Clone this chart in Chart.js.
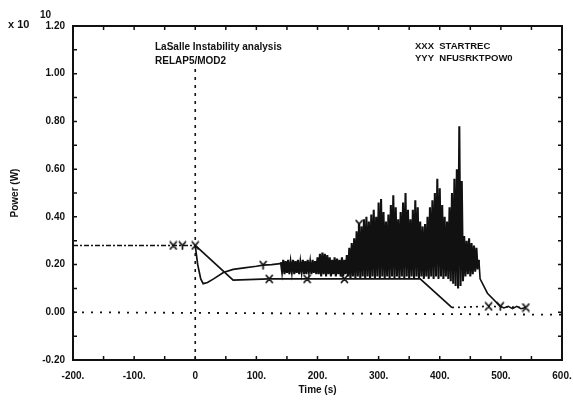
<!DOCTYPE html>
<html>
<head>
<meta charset="utf-8">
<script src="https://cdn.jsdelivr.net/npm/chart.js@4.4.1/dist/chart.umd.min.js"></script>
<style>
  html, body { margin: 0; padding: 0; background: #fff; }
  #wrap { width: 573px; height: 405px; }
</style>
</head>
<body>
<div id="wrap"><canvas id="c" width="573" height="405"></canvas></div>
<script>
// ---------- data ----------
const xTickValues = [-200, -100, 0, 100, 200, 300, 400, 500, 600];
const yTickValues = [-0.2, 0, 0.2, 0.4, 0.6, 0.8, 1.0, 1.2];
const seriesNames = ['STARTREC', 'NFUSRKTPOW0'];
const seriesKeys = ['XXX', 'YYY'];

// steady state before t = 0 (both series)
const preTime = [-200, 0];
const prePower = [0.28, 0.28];

// STARTREC (X)
const startrecTime = [0, 62, 121, 183, 244, 300, 368, 420];
const startrecPower = [0.28, 0.135, 0.14, 0.14, 0.14, 0.14, 0.14, 0.02];
const startrecTailTime = [420, 480, 541];
const startrecTailPower = [0.02, 0.025, 0.02];
const startrecMarkTime = [-36, 0, 121, 183, 244, 480, 541];
const startrecMarkPower = [0.28, 0.28, 0.14, 0.14, 0.14, 0.025, 0.02];

// NFUSRKTPOW0 (Y)
const nfusTime = [0, 4, 9, 13, 20, 30, 46, 62, 80, 100, 111, 125, 139];
const nfusPower = [0.28, 0.2, 0.14, 0.12, 0.125, 0.14, 0.167, 0.18, 0.186, 0.193, 0.198, 0.2, 0.204];
const oscStart = 140;
const oscStep = 2;
const oscPower = [
  0.21,0.17, 0.22,0.16, 0.215,0.165, 0.22,0.16, 0.21,0.17,
  0.22,0.16, 0.215,0.165, 0.22,0.16, 0.21,0.17, 0.22,0.16,
  0.215,0.16, 0.22,0.17, 0.21,0.16, 0.22,0.165, 0.215,0.16,
  0.23,0.16, 0.245,0.15, 0.25,0.16, 0.245,0.15, 0.24,0.16,
  0.23,0.15, 0.22,0.16, 0.23,0.15, 0.225,0.16, 0.22,0.15,
  0.23,0.15, 0.22,0.16, 0.24,0.15, 0.27,0.14, 0.29,0.15,
  0.31,0.14, 0.34,0.15, 0.37,0.14, 0.36,0.15, 0.39,0.14,
  0.40,0.15, 0.38,0.14, 0.41,0.15, 0.43,0.14, 0.40,0.15,
  0.46,0.14, 0.475,0.15, 0.42,0.14, 0.38,0.15, 0.41,0.14,
  0.45,0.15, 0.49,0.14, 0.44,0.15, 0.39,0.14, 0.42,0.15,
  0.46,0.14, 0.50,0.15, 0.43,0.14, 0.39,0.15, 0.43,0.14,
  0.47,0.15, 0.44,0.14, 0.38,0.15, 0.36,0.14, 0.37,0.15,
  0.40,0.14, 0.44,0.15, 0.47,0.14, 0.50,0.15, 0.56,0.14,
  0.52,0.15, 0.45,0.14, 0.40,0.15, 0.38,0.14, 0.44,0.13,
  0.50,0.12, 0.56,0.11, 0.60,0.10, 0.78,0.11, 0.55,0.13,
  0.32,0.15, 0.30,0.16, 0.31,0.15, 0.29,0.16, 0.28,0.17,
  0.27,0.18, 0.22
];
const nfusTailTime = [464, 466, 478, 499, 505, 512, 519, 526, 533, 541];
const nfusTailPower = [0.22, 0.14, 0.08, 0.025, 0.018, 0.025, 0.015, 0.025, 0.015, 0.02];
const nfusMarkTime = [-21, 111, 268, 499];
const nfusMarkPower = [0.28, 0.198, 0.37, 0.025];

// reference lines
const vLineTime = [0, 0];
const vLinePower = [-0.2, 1.02];
const hLineTime = [-200, 600];
const hLinePower = [0, -0.01];

// ---------- helpers ----------
const pts = (xs, ys) => xs.map((t, i) => ({x: t, y: ys[i]}));
const oscPts = oscPower.map((v, i) => ({x: oscStart + i * oscStep, y: v}));
const INK = '#111';
const FONT = "'Liberation Sans', Arial, sans-serif";

function glyphMarker(ch) {
  const c = document.createElement('canvas');
  c.width = 9; c.height = 10;
  const g = c.getContext('2d');
  g.strokeStyle = INK; g.lineWidth = 1.7; g.lineCap = 'round';
  g.beginPath();
  if (ch === 'X') {
    g.moveTo(1.5, 1.5); g.lineTo(7.5, 8.5);
    g.moveTo(7.5, 1.5); g.lineTo(1.5, 8.5);
  } else {
    g.moveTo(1.5, 1.5); g.lineTo(4.5, 5);
    g.moveTo(7.5, 1.5); g.lineTo(4.5, 5);
    g.lineTo(4.5, 8.8);
  }
  g.stroke();
  return c;
}
const markX = glyphMarker('X');
const markY = glyphMarker('Y');

function lineSet(data, opts) {
  return Object.assign({
    data, showLine: true, borderColor: INK, backgroundColor: INK,
    borderWidth: 1.5, pointRadius: 0, fill: false, tension: 0
  }, opts || {});
}

// ---------- frame, inward ticks, texts ----------
const framePlugin = {
  id: 'frame',
  afterDatasetsDraw(chart) {
    const {ctx, chartArea: a, scales: {x, y}} = chart;
    ctx.save();
    ctx.strokeStyle = INK;
    ctx.lineWidth = 2;
    ctx.strokeRect(a.left, a.top, a.right - a.left, a.bottom - a.top);
    ctx.lineWidth = 1.5;
    ctx.beginPath();
    for (let v = -200; v <= 600; v += 50) {
      const px = x.getPixelForValue(v);
      ctx.moveTo(px, a.bottom); ctx.lineTo(px, a.bottom - 4);
      ctx.moveTo(px, a.top); ctx.lineTo(px, a.top + 4);
    }
    for (let k = -2; k <= 12; k++) {
      const py = y.getPixelForValue(k / 10);
      ctx.moveTo(a.left, py); ctx.lineTo(a.left + 4, py);
      ctx.moveTo(a.right, py); ctx.lineTo(a.right - 4, py);
    }
    ctx.stroke();

    ctx.fillStyle = INK;
    ctx.textBaseline = 'middle';
    ctx.textAlign = 'left';
    ctx.font = 'bold 11px ' + FONT;
    ctx.fillText('x 10', 8, 25);
    ctx.font = 'bold 10px ' + FONT;
    ctx.fillText('10', 40, 15);
    ctx.font = 'bold 10px ' + FONT;
    ctx.fillText('LaSalle Instability analysis', 155, 47);
    ctx.fillText('RELAP5/MOD2', 155, 61);
    ctx.font = 'bold 9.5px ' + FONT;
    ctx.fillText(seriesKeys[0] + '  ' + seriesNames[0], 415, 46);
    ctx.fillText(seriesKeys[1] + '  ' + seriesNames[1], 415, 58);
    ctx.restore();
  }
};

new Chart(document.getElementById('c'), {
  type: 'scatter',
  data: {
    datasets: [
      lineSet(pts(startrecMarkTime, startrecMarkPower), {showLine: false, pointStyle: markX, pointRadius: 4}),
      lineSet(pts(nfusMarkTime, nfusMarkPower), {showLine: false, pointStyle: markY, pointRadius: 4}),
      lineSet(pts(startrecTime, startrecPower), {borderWidth: 1.7}),
      lineSet(pts(startrecTailTime, startrecTailPower), {borderDash: [2, 4], borderWidth: 1.7}),
      lineSet(pts(nfusTime, nfusPower), {borderWidth: 1.7}),
      lineSet(oscPts, {borderWidth: 2.1}),
      lineSet(pts(nfusTailTime, nfusTailPower), {borderWidth: 1.6}),
      lineSet(pts(preTime, prePower), {borderDash: [5, 2, 2, 2], borderWidth: 1.3}),
      lineSet(pts(vLineTime, vLinePower), {borderDash: [3, 5], borderWidth: 1.6}),
      lineSet(pts(hLineTime, hLinePower), {borderDash: [2, 7], borderWidth: 1.8})
    ]
  },
  options: {
    responsive: false,
    animation: false,
    devicePixelRatio: 1,
    layout: {padding: {left: 0, top: 26, right: 11, bottom: 0}},
    plugins: {legend: {display: false}, tooltip: {enabled: false}},
    scales: {
      x: {
        type: 'linear', min: -200, max: 600,
        afterBuildTicks: s => { s.ticks = xTickValues.map(v => ({value: v})); },
        afterFit: s => { s.height = 45; s.paddingLeft = 0; s.paddingRight = 0; },
        grid: {display: false, drawTicks: false},
        border: {display: false},
        ticks: {
          color: INK, padding: 10, maxRotation: 0, autoSkip: false,
          font: {family: FONT, size: 10, weight: 'bold'},
          callback: v => v === 0 ? '0' : v + '.'
        },
        title: {display: true, text: 'Time (s)', color: INK,
          font: {family: FONT, size: 10, weight: 'bold'}, padding: {top: 0, bottom: 9}}
      },
      y: {
        type: 'linear', min: -0.2, max: 1.2,
        afterBuildTicks: s => { s.ticks = yTickValues.map(v => ({value: v})); },
        afterFit: s => { s.width = 73; s.paddingTop = 0; s.paddingBottom = 0; },
        grid: {display: false, drawTicks: false},
        border: {display: false},
        ticks: {
          color: INK, padding: 8, autoSkip: false,
          font: {family: FONT, size: 10, weight: 'bold'},
          callback: v => v.toFixed(2)
        },
        title: {display: true, text: 'Power (W)', color: INK,
          font: {family: FONT, size: 10, weight: 'bold'}, padding: {top: 9, bottom: 0}}
      }
    }
  },
  plugins: [framePlugin]
});
</script>
</body>
</html>
